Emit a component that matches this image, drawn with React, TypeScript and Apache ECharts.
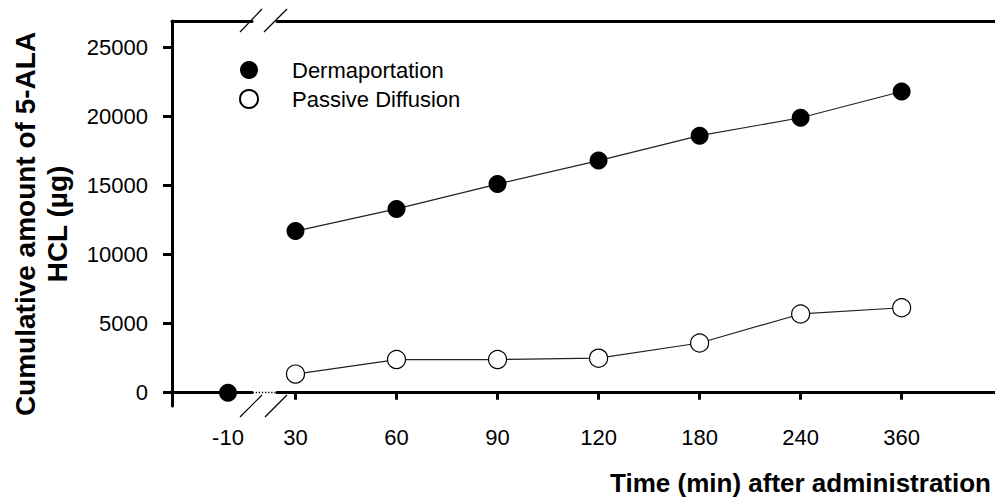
import React, { useEffect, useRef } from "react";
import * as echarts from "echarts";

// ---- data ----
const preTimeLabel = "-10";
const preTime = -10;
const preDermaportation = 0;
const timeLabels = ["30", "60", "90", "120", "180", "240", "360"];
const dermaportation = [11700, 13300, 15100, 16800, 18600, 19900, 21800];
const passiveDiffusion = [1350, 2400, 2400, 2500, 3600, 5700, 6150];
const yTicks = [0, 5000, 10000, 15000, 20000, 25000];
const baselineValue = 0;

const FONT = '"Liberation Sans", Arial, Helvetica, sans-serif';
const BLACK = "#000";

export default function App() {
  const ref = useRef<HTMLDivElement>(null);

  useEffect(() => {
    document.body.style.margin = "0";
    if (!ref.current) return;
    const chart = echarts.init(ref.current, undefined, { renderer: "svg" });

    const axisLine = { show: true, lineStyle: { color: BLACK, width: 3 } };
    const yMin = -960;
    const yMax = 26900;
    const tickIdx = timeLabels.map((_, i) => i);

    const option: any = {
      animation: false,
      backgroundColor: "#fff",
      grid: [
        { left: 172, top: 21, width: 80, height: 385 },
        { left: 277, top: 21, width: 718, height: 385 },
      ],
      legend: {
        orient: "vertical",
        left: 234,
        top: 54,
        itemWidth: 76,
        itemHeight: 18,
        itemGap: 7,
        textStyle: { fontSize: 22, fontFamily: FONT, color: BLACK },
        data: [
          { name: "Dermaportation", icon: "circle" },
          { name: "Passive Diffusion", icon: "circle" },
        ],
      },
      xAxis: [
        {
          gridIndex: 0,
          type: "value",
          position: "bottom",
          min: -24,
          max: -4,
          axisLine,
          axisTick: {
            show: true,
            customValues: [-24, preTime],
            length: 7,
            lineStyle: { color: BLACK, width: 3 },
          },
          axisLabel: {
            customValues: [preTime],
            formatter: () => preTimeLabel,
            fontSize: 22,
            fontFamily: FONT,
            color: BLACK,
            margin: 20,
          },
          splitLine: { show: false },
        },
        {
          gridIndex: 0,
          type: "value",
          position: "top",
          min: -24,
          max: -4,
          axisLine,
          axisTick: { show: false },
          axisLabel: { show: false },
          splitLine: { show: false },
        },
        {
          gridIndex: 1,
          type: "value",
          position: "bottom",
          min: -0.183,
          max: 6.924,
          axisLine,
          axisTick: {
            show: true,
            customValues: tickIdx,
            length: 7,
            lineStyle: { color: BLACK, width: 3 },
          },
          axisLabel: {
            customValues: tickIdx,
            formatter: (v: number) => timeLabels[Math.round(v)] ?? "",
            fontSize: 22,
            fontFamily: FONT,
            color: BLACK,
            margin: 20,
          },
          splitLine: { show: false },
        },
        {
          gridIndex: 1,
          type: "value",
          position: "top",
          min: -0.183,
          max: 6.924,
          axisLine,
          axisTick: { show: false },
          axisLabel: { show: false },
          splitLine: { show: false },
        },
      ],
      yAxis: [
        {
          gridIndex: 0,
          type: "value",
          min: yMin,
          max: yMax,
          axisLine,
          axisTick: {
            show: true,
            customValues: yTicks,
            length: 9,
            lineStyle: { color: BLACK, width: 3 },
          },
          axisLabel: {
            customValues: yTicks,
            formatter: (v: number) => String(Math.round(v)),
            fontSize: 22,
            fontFamily: FONT,
            color: BLACK,
            margin: 24,
          },
          splitLine: { show: false },
        },
        { gridIndex: 1, type: "value", min: yMin, max: yMax, show: false },
      ],
      series: [
        {
          name: "Dermaportation",
          type: "line",
          xAxisIndex: 0,
          yAxisIndex: 0,
          data: [[preTime, preDermaportation]],
          symbol: "circle",
          symbolSize: 18,
          itemStyle: { color: BLACK },
          lineStyle: { color: BLACK, width: 1 },
          z: 3,
        },
        {
          name: "Dermaportation",
          type: "line",
          xAxisIndex: 2,
          yAxisIndex: 1,
          data: dermaportation.map((v, i) => [i, v]),
          symbol: "circle",
          symbolSize: 18,
          showAllSymbol: true,
          itemStyle: { color: BLACK },
          lineStyle: { color: "#222", width: 1.2 },
          z: 3,
        },
        {
          name: "Passive Diffusion",
          type: "line",
          xAxisIndex: 2,
          yAxisIndex: 1,
          data: passiveDiffusion.map((v, i) => [i, v]),
          symbol: "circle",
          symbolSize: 18,
          showAllSymbol: true,
          itemStyle: { color: "#fff", borderColor: BLACK, borderWidth: 1.2 },
          lineStyle: { color: "#222", width: 1.2 },
          z: 3,
          markLine: {
            silent: true,
            symbol: "none",
            z: 1,
            label: { show: false },
            lineStyle: { color: BLACK, width: 1.3, type: [1.3, 1.8], opacity: 1 },
            emphasis: { disabled: true },
            data: [[{ yAxis: baselineValue, x: 172 }, { yAxis: baselineValue, x: 995 }]],
          },
        },
      ],
      graphic: [
        // axis break marks, bottom
        { type: "line", shape: { x1: 240, y1: 417, x2: 262, y2: 395 }, style: { stroke: BLACK, lineWidth: 1.2 } },
        { type: "line", shape: { x1: 265, y1: 417, x2: 287, y2: 395 }, style: { stroke: BLACK, lineWidth: 1.2 } },
        // axis break marks, top
        { type: "line", shape: { x1: 240, y1: 32, x2: 262, y2: 9 }, style: { stroke: BLACK, lineWidth: 1.2 } },
        { type: "line", shape: { x1: 264, y1: 32, x2: 287, y2: 9 }, style: { stroke: BLACK, lineWidth: 1.2 } },
        {
          type: "text",
          x: 991,
          y: 483,
          style: {
            text: "Time (min) after administration",
            align: "right",
            verticalAlign: "middle",
            font: `bold 26px ${FONT}`,
            fill: BLACK,
          },
        },
        {
          type: "text",
          x: 41,
          y: 224,
          rotation: Math.PI / 2,
          style: {
            text: "Cumulative amount of 5-ALA\nHCL (µg)",
            align: "center",
            verticalAlign: "middle",
            font: `bold 28px ${FONT}`,
            lineHeight: 32,
            fill: BLACK,
          },
        },
      ],
    };

    chart.setOption(option);
    return () => chart.dispose();
  }, []);

  return <div ref={ref} style={{ width: 995, height: 500 }} />;
}
